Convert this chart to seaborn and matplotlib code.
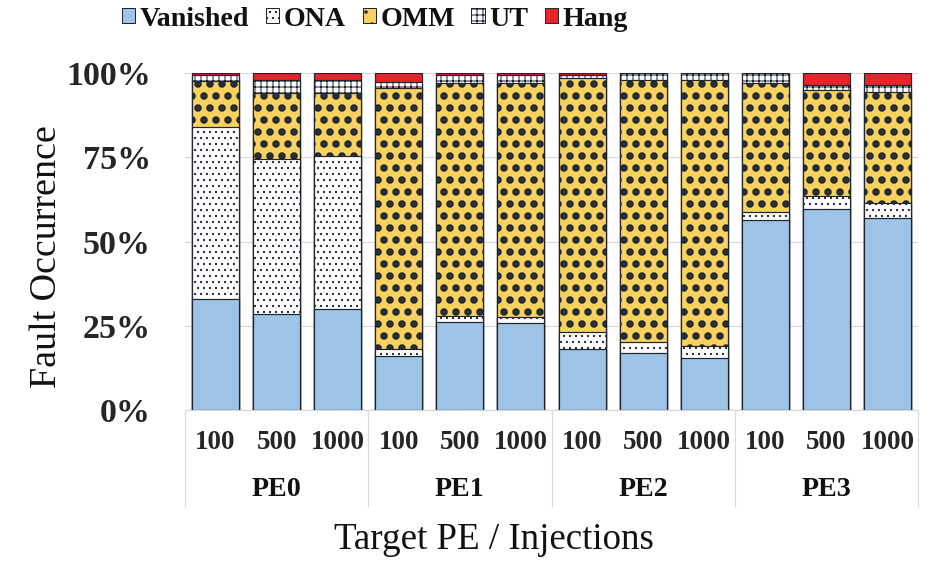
import numpy as np
import pandas as pd
import matplotlib
matplotlib.use('Agg')
import matplotlib.pyplot as plt
import matplotlib.patches as mpatches
import seaborn as sns

# ── Data (percent of fault injections) ───────────────────────────────────────
groups     = ['PE0', 'PE1', 'PE2', 'PE3']
injections = ['100', '500', '1000']
vanished = [33.0, 28.5, 30.0, 16.0, 26.0, 25.8, 18.0, 17.0, 15.5, 56.5, 59.5, 57.0]
ona      = [51.0, 46.0, 45.5, 2.0, 2.0, 1.8, 5.0, 3.3, 3.5, 2.3, 4.0, 4.5]
omm      = [13.5, 19.5, 18.5, 77.5, 69.0, 69.4, 75.5, 77.7, 79.0, 38.2, 31.5, 33.0]
ut       = [2.0, 4.0, 4.0, 1.8, 2.4, 2.4, 1.0, 2.0, 2.0, 3.0, 1.4, 1.9]
hang     = [0.5, 2.0, 2.0, 2.7, 0.6, 0.6, 0.5, 0.0, 0.0, 0.0, 3.6, 3.6]

series = [('Vanished', vanished), ('ONA', ona), ('OMM', omm), ('UT', ut), ('Hang', hang)]

# ── Styles ───────────────────────────────────────────────────────────────────
EDGE = '#1E2530'
styles = {
    'Vanished': dict(color='#9DC3E6', hatch=None,  hlw=1.0),
    'ONA':      dict(color='#FFFFFF', hatch='..',  hlw=1.0),
    'OMM':      dict(color='#F7D25E', hatch='.',   hlw=5.0),
    'UT':       dict(color='#FFFFFF', hatch='++',  hlw=1.0),
    'Hang':     dict(color='#E8232A', hatch=None,  hlw=1.0),
}

sns.set_style('white')
plt.rcParams['font.family'] = ['Liberation Serif', 'DejaVu Serif']
plt.rcParams['text.color'] = '#111111'

W, H, DPI = 936, 573, 72
fig = plt.figure(figsize=(W / DPI, H / DPI), dpi=DPI)
ax = fig.add_axes([185 / W, 1 - 410 / H, (918 - 185) / W, (410 - 73) / H])

n = len(vanished)
xpos = list(range(n))
df = pd.DataFrame({'x': xpos})
cum = np.zeros(n)
tops = []
for name, vals in series:
    cum = cum + np.array(vals)
    tops.append((name, cum.copy()))

# draw from the top segment down so lower segments cover upper ones
for name, top in reversed(tops):
    st = styles[name]
    plt.rcParams['hatch.linewidth'] = st['hlw']
    df['y'] = top
    sns.barplot(data=df, x='x', y='y', ax=ax, color=st['color'], saturation=1,
                width=0.77, errorbar=None, edgecolor=EDGE, linewidth=1.2,
                hatch=st['hatch'], zorder=3)
    for p in ax.patches[-n:]:
        if hasattr(p, 'set_hatch_linewidth'):
            p.set_hatch_linewidth(st['hlw'])

ax.set_ylim(0, 100)
ax.set_xlim(-0.5, n - 0.5)
ax.set_yticks([0, 25, 50, 75, 100])
ax.set_yticklabels([f'{v}%' for v in [0, 25, 50, 75, 100]],
                   fontsize=34, fontweight='bold')
ax.yaxis.grid(True, color='#D9D9D9', linewidth=1.2, zorder=0)
ax.set_axisbelow(True)
for s in ['top', 'right', 'left']:
    ax.spines[s].set_visible(False)
ax.spines['bottom'].set_color('#D9D9D9')
ax.spines['bottom'].set_linewidth(1.2)
ax.tick_params(axis='y', length=0, pad=34)

ax.set_xticks(xpos)
ax.set_xticklabels(injections * len(groups), fontsize=27, fontweight='bold')
ax.tick_params(axis='x', length=0, pad=20)
ax.set_xlabel('')
ax.set_ylabel('')

# group labels and separators of the two-level category axis
trans = ax.get_xaxis_transform()
k = len(injections)
bounds = [g * k - 0.5 for g in range(len(groups) + 1)]
ax.vlines(bounds, 0, -(507 - 410) / (410 - 73), transform=trans,
          color='#D9D9D9', linewidth=1.2, clip_on=False)
for g, lbl in enumerate(groups):
    ax.text(g * k + (k - 1) / 2, -(490 - 410) / (410 - 73), lbl, transform=trans,
            ha='center', va='center', fontsize=28, fontweight='bold')

fig.text(494 / W, 1 - 540 / H, 'Target PE / Injections', ha='center', va='center',
         fontsize=37)
fig.text(47 / W, 1 - 257 / H, 'Fault Occurrence', ha='center', va='center',
         rotation=90, fontsize=38)

# ── Legend ───────────────────────────────────────────────────────────────────
handles = []
for name, _ in series:
    st = styles[name]
    plt.rcParams['hatch.linewidth'] = min(st['hlw'], 2.5)
    handles.append(mpatches.Patch(facecolor=st['color'], edgecolor=EDGE,
                                  hatch=st['hatch'], linewidth=1.0, label=name))
fig.legend(handles=handles, loc='center', bbox_to_anchor=(375 / W, 1 - 19 / H),
           ncol=5, frameon=False, handlelength=0.48, handleheight=0.48,
           handletextpad=0.15, columnspacing=0.6,
           prop={'family': 'Liberation Serif', 'weight': 'bold', 'size': 28})

fig.savefig('out.png', dpi=DPI, facecolor='white')
